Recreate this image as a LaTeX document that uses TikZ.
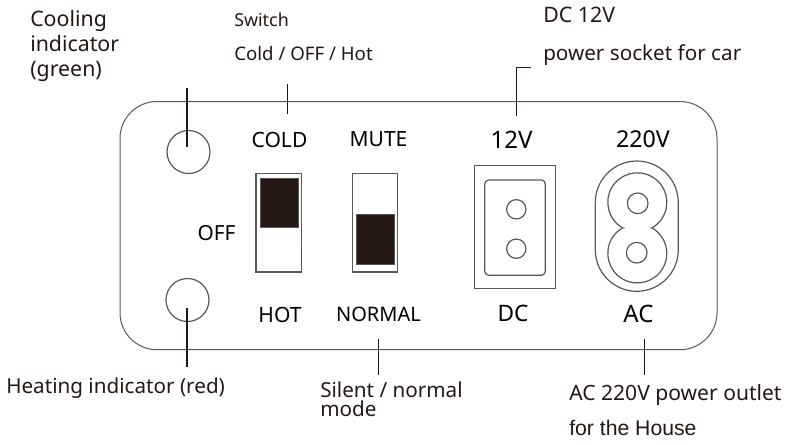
\documentclass[tikz,border=0pt]{standalone}
\usepackage{fontspec}
\setmainfont{Noto Sans}
\newfontfamily\arialfont{Liberation Sans}
\usepackage{xcolor}
\definecolor{inkline}{HTML}{595757}
\definecolor{inkdark}{HTML}{231815}
\newcommand{\fs}[1]{\fontsize{#1}{#1}\selectfont}
\begin{document}
\begin{tikzpicture}[x=0.75pt,y=-0.75pt]
\tikzset{
    panel/.style={draw=inkline, line width=0.75pt},
    lamp/.style={%
        draw=inkline, line width=0.9pt,
        circle, inner sep=0pt,
        minimum size=32.25pt
        },
    hole/.style={%
        draw=inkline, line width=0.9pt,
        circle, inner sep=0pt,
        minimum size=14.5pt
        },
    slider/.style={draw=inkline, line width=0.9pt},
    knob/.style={fill=inkdark, draw=inkline, line width=0.4pt},
    leader/.style={draw=inkdark, line width=0.75pt},
    tag/.style={text=black, inner sep=0pt},
    callout/.style={text=inkdark, anchor=base west, inner sep=0pt},
}
\useasboundingbox (0,0) rectangle (786,444);
%%%PANEL
\draw[panel, rounded corners=27.75pt] (120,101.5) rectangle (717,349.7);
%%%INDICATORS
\node[lamp] (cool) at (188.5,152) {};
\node[lamp] (heat) at (187.5,300) {};
%%%SWITCHES
\draw[slider] (256,173.3) rectangle (301.7,272);
\draw[knob] (260.7,178) rectangle (298.3,227);
\draw[slider] (352.7,173.3) rectangle (397.7,272);
\draw[knob] (356.7,214.3) rectangle (394,264);
%%%DC SOCKET
\draw[slider] (474.7,165.7) rectangle (555.3,288.7);
\draw[slider, rounded corners=3pt] (484.7,180) rectangle (545.3,275.3);
\node[hole] (dcupper) at (516.3,209.3) {};
\node[hole] (dclower) at (516.3,248.7) {};
%%%AC SOCKET
\draw[slider] (595.3,202.5) arc (180:360:41.5) -- (678.3,249.8) arc (0:180:41.5) -- cycle;
\draw[slider] (624.6,227.85) -- (622.55,227.85) arc (120:420:29.5) -- (650,227.85)
    -- (652.05,227.85) arc (-60:240:29.5) -- cycle;
\node[hole, minimum size=15.5pt] (acupper) at (637.7,203.3) {};
\node[hole, minimum size=15.5pt] (aclower) at (636.7,252.7) {};
%%%PANEL LABELS
\node[tag, font=\fs{15.8}] (cold) at (279.5,139.5) {COLD};
\node[tag, font=\fs{15.7}] (mute) at (378.5,139.5) {MUTE};
\node[tag, font=\fs{18}] (twelve) at (511.5,139.5) {12V};
\node[tag, font=\fs{17.4}] (mains) at (643,139.5) {220V};
\node[tag, font=\fs{15.6}] (off) at (216.5,233.5) {OFF};
\node[tag, font=\fs{15.8}] (hot) at (280,314.5) {HOT};
\node[tag, font=\fs{15}] (normal) at (378.5,314.5) {NORMAL};
\node[tag, font=\fs{17}] (dc) at (513,313.5) {DC};
\node[tag, font=\fs{18}] (ac) at (638.5,313.5) {AC};
%%%CALLOUTS
\node[callout, font=\fs{16}] (coolinga) at (30,26) {Cooling};
\node[callout, font=\fs{16}] (coolingb) at (30,51.7) {indicator};
\node[callout, font=\fs{16}] (coolingc) at (30,76) {(green)};
\node[callout, font=\fs{13.4}] (switcha) at (234,26.7) {Switch};
\node[callout, font=\fs{14}] (switchb) at (234,60) {Cold / OFF / Hot};
\node[callout, font=\fs{16}] (dctitle) at (543,22.7) {DC 12V};
\node[callout, font=\fs{15.5}] (dcnote) at (543,60) {power socket for car};
\node[callout, font=\fs{15.5}] (heating) at (6,393.7) {Heating indicator (red)};
\node[callout, font=\fs{15.5}] (silenta) at (320,397.7) {Silent / normal};
\node[callout, font=\fs{15.5}] (silentb) at (320,416) {mode};
\node[callout, font=\fs{15.8}] (actitle) at (569,400) {AC 220V power outlet};
\node[callout, font={\arialfont\fs{15.9}}] (acnote) at (569,435) {for the House};
%%%LEADERS
\coordinate (cooltop) at (187,88);
\coordinate (coolend) at (187,147);
\coordinate (switchtop) at (287.5,84);
\coordinate (switchend) at (287.5,114);
\coordinate (heatend) at (187,367);
\coordinate (heatstart) at (187,308);
\coordinate (silentstart) at (378,339);
\coordinate (silentend) at (378,375);
\coordinate (dctail) at (530.7,67);
\coordinate (dcknee) at (516.7,67);
\coordinate (dcend) at (516.7,115.7);
\coordinate (acstart) at (644,339);
\coordinate (acend) at (644,375);
\draw[leader, line width=1.1pt] (cooltop) -- (coolend);
\draw[leader] (switchtop) -- (switchend);
\draw[leader, line width=1.1pt] (heatstart) -- (heatend);
\draw[leader] (silentstart) -- (silentend);
\draw[leader] (dctail) -- (dcknee) -- (dcend);
\draw[leader] (acstart) -- (acend);
\end{tikzpicture}
\end{document}
